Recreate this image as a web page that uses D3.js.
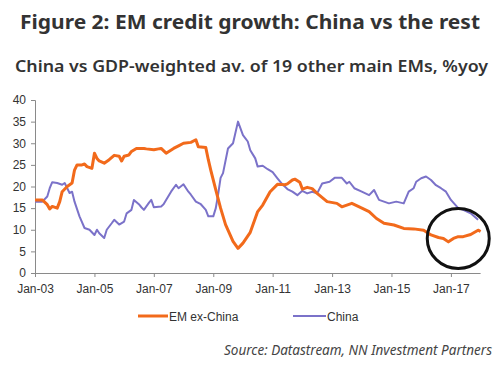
<!DOCTYPE html>
<html><head><meta charset="utf-8">
<script src="https://cdn.jsdelivr.net/npm/d3@7"></script>
<style>body{margin:0;background:#fff}svg{display:block}</style>
</head><body>
<svg id="c" width="500" height="366"></svg>
<script>
const title = "Figure 2: EM credit growth: China vs the rest";
const subtitle = "China vs GDP-weighted av. of 19 other main EMs, %yoy";
const source = "Source: Datastream, NN Investment Partners";
const seriesNames = ["EM ex-China", "China"];
const yTicks = [0,5,10,15,20,25,30,35,40];
const xTickLabels = ["Jan-03","Jan-05","Jan-07","Jan-09","Jan-11","Jan-13","Jan-15","Jan-17"];

// months since Jan-2003
const emMonths = [0,3,5,6,7,9,10,11,13,15,16,17,19,20,21,23,24,25,26,28,30,32,34,35,36,38,39,41,44,45,48,50,51,53,56,58,60,63,65,66,69,70,71,73,75,77,80,82,84,87,90,92,95,98,101,102,104,105,107,108,110,112,114,118,122,124,128,131,135,138,141,145,149,153,157,160,163,165,167,169,171,173,176,179,180];
const emValues = [16.9,16.9,15.8,14.8,15.4,15.0,16.5,18.8,20.0,20.8,23.8,25.0,25.0,25.2,24.6,24.2,27.7,26.5,25.9,25.4,26.2,27.2,27.0,25.9,27.0,27.3,28.1,28.8,28.8,28.7,28.5,28.7,28.8,27.7,28.8,29.4,30.0,30.2,30.8,29.2,29.0,26.2,23.8,19.2,15.0,11.2,7.3,5.7,6.9,9.4,14.2,15.7,18.8,20.5,20.4,20.6,21.5,21.7,21.0,19.4,19.8,19.5,18.4,16.5,16.1,15.3,16.1,15.3,14.2,12.6,11.5,11.1,10.3,10.2,9.9,8.8,8.2,8.0,7.2,8.0,8.4,8.4,8.9,9.9,9.6];

const cnMonths = [0,3,5,6,7,9,11,12,14,15,16,18,20,22,24,25,26,28,29,31,32,34,36,37,39,40,42,43,44,46,47,48,51,52,53,55,57,58,60,62,63,65,67,69,70,72,73,74,75,76,78,80,82,84,86,87,89,90,92,94,96,98,100,102,104,106,108,110,112,114,116,119,121,124,126,127,129,132,135,137,139,141,143,146,149,151,153,154,156,158,160,162,164,166,168,171,173,176,179];
const cnValues = [16.5,16.5,17.7,19.6,21.0,20.8,20.4,20.8,18.5,18.8,16.5,13.1,10.4,10.0,8.8,10.0,9.2,8.1,10.0,11.5,12.3,11.2,11.9,13.8,14.6,16.9,15.9,15.2,14.6,16.2,16.9,15.2,15.4,15.9,16.9,18.8,20.4,19.6,20.5,18.8,18.1,16.5,15.9,14.6,13.1,13.1,15.0,18.1,22.0,23.1,28.8,30.0,35.0,31.9,30.4,28.4,26.5,24.6,24.8,24.0,23.3,21.9,20.5,19.4,18.8,18.0,19.0,18.4,18.8,18.4,20.7,21.1,22.0,22.0,20.7,21.1,19.6,18.8,18.0,19.2,16.9,16.5,16.1,16.5,16.1,18.8,19.6,21.1,21.9,22.3,21.5,20.3,19.6,18.8,16.9,15.0,14.6,13.8,12.3];

const colors = ["#F26A1B", "#7B72C9"];

const svg = d3.select("#c");
const start = new Date(2003,0,1);
const toDate = m => d3.timeMonth.offset(start, m);

const x = d3.scaleTime().domain([start, new Date(2018,0,1)]).range([35, 480.6]);
const y = d3.scaleLinear().domain([0,40]).range([273,100]);

// titles
svg.append("text").attr("x",20).attr("y",29).attr("font-family","Noto Sans, sans-serif")
  .attr("font-weight","bold").attr("font-size",19).attr("fill","#333")
  .attr("textLength",460).attr("lengthAdjust","spacingAndGlyphs").text(title);
svg.append("text").attr("x",15).attr("y",72).attr("font-family","Noto Sans, sans-serif")
  .attr("font-weight","600").attr("font-size",16.5).attr("fill","#333")
  .attr("textLength",473).attr("lengthAdjust","spacingAndGlyphs").text(subtitle);

// y axis
const yAxis = d3.axisLeft(y).tickValues(yTicks).tickSize(4).tickPadding(5);
const gy = svg.append("g").attr("transform","translate(35,0)").call(yAxis);
gy.select(".domain").attr("stroke","#8a8a8a").attr("d","M-4,100.5H0.5V273.5");
gy.selectAll(".tick line").attr("stroke","#8a8a8a");
gy.selectAll("text").attr("font-family","Liberation Sans, Arial, sans-serif").attr("font-size",12).attr("fill","#333");

// x axis
const xDates = xTickLabels.map((d,i)=>new Date(2003+2*i,0,1));
const xAxis = d3.axisBottom(x).tickValues(xDates).tickFormat((d,i)=>xTickLabels[i]).tickSize(4).tickPadding(7);
const gx = svg.append("g").attr("transform","translate(0,273)").call(xAxis);
gx.select(".domain").attr("stroke","#8a8a8a").attr("d","M35,0.5H480.6");
gx.selectAll(".tick line").attr("stroke","#8a8a8a");
gx.selectAll("text").attr("font-family","Liberation Sans, Arial, sans-serif").attr("font-size",12).attr("fill","#333");

const line = d3.line().x(d=>x(toDate(d[0]))).y(d=>y(d[1]));
const emData = emMonths.map((m,i)=>[m, emValues[i]]);
const cnData = cnMonths.map((m,i)=>[m, cnValues[i]]);

svg.append("path").datum(cnData).attr("d",line).attr("fill","none")
  .attr("stroke",colors[1]).attr("stroke-width",2).attr("stroke-linejoin","round");
svg.append("path").datum(emData).attr("d",line).attr("fill","none")
  .attr("stroke",colors[0]).attr("stroke-width",3).attr("stroke-linejoin","round");

// highlight circle
svg.append("ellipse").attr("cx",x(toDate(171))).attr("cy",y(8)).attr("rx",31).attr("ry",30)
  .attr("fill","none").attr("stroke","#111").attr("stroke-width",3);

// legend
const leg = [{x1:138,x2:168},{x1:293,x2:326}];
seriesNames.forEach((n,i)=>{
  svg.append("line").attr("x1",leg[i].x1).attr("x2",leg[i].x2).attr("y1",316).attr("y2",316)
    .attr("stroke",colors[i]).attr("stroke-width",i===0?3:2);
  svg.append("text").attr("x",leg[i].x2+1).attr("y",320.5).attr("font-family","Liberation Sans, Arial, sans-serif")
    .attr("font-size",12).attr("fill","#333").text(n);
});

svg.append("text").attr("x",492).attr("y",355).attr("text-anchor","end")
  .attr("font-family","Noto Sans, sans-serif").attr("font-style","italic").attr("font-size",13.5)
  .attr("fill","#444").text(source);
</script>
</body></html>
